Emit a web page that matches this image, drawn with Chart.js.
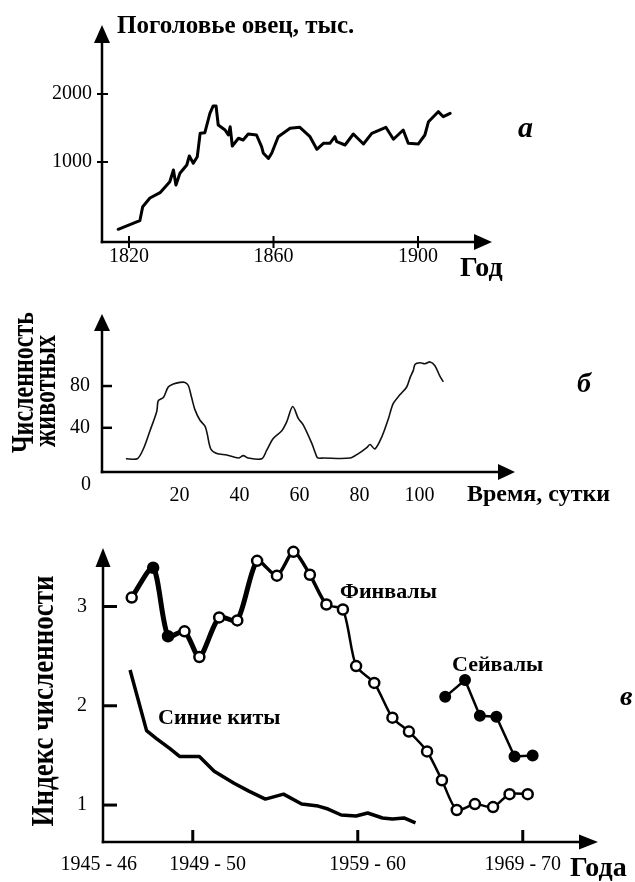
<!DOCTYPE html>
<html><head><meta charset="utf-8">
<script src="https://cdn.jsdelivr.net/npm/chart.js@4/dist/chart.umd.min.js"></script>
<style>
html,body{margin:0;padding:0;background:#fff;width:635px;height:882px;overflow:hidden}
canvas{position:absolute;left:0}
</style></head><body>
<canvas id="ca" width="635" height="290" style="top:0px"></canvas>
<canvas id="cb" width="635" height="230" style="top:290px"></canvas>
<canvas id="cc" width="635" height="362" style="top:520px"></canvas>
<script>
// ---------- Panel a: sheep population (thousands) ----------
const sheepYears = [1817.0, 1823.0, 1823.8, 1825.8, 1828.6, 1831.3, 1832.3, 1833.0, 1834.1, 1836.0, 1836.7, 1837.8, 1838.9, 1839.7, 1841.0, 1842.4, 1843.3, 1844.1, 1844.7, 1846.6, 1847.5, 1848.0, 1848.6, 1850.3, 1851.6, 1853.0, 1855.3, 1856.7, 1857.2, 1858.6, 1859.5, 1861.3, 1864.6, 1867.3, 1870.1, 1872.0, 1873.8, 1875.6, 1877.0, 1877.5, 1879.8, 1882.1, 1884.9, 1887.2, 1891.1, 1893.2, 1895.9, 1897.3, 1900.1, 1901.9, 1902.9, 1905.6, 1907.0, 1908.9];
const sheepValues = [10, 137, 343, 470, 549, 710, 882, 662, 834, 956, 1088, 981, 1078, 1422, 1431, 1716, 1824, 1824, 1544, 1471, 1397, 1519, 1235, 1349, 1324, 1412, 1397, 1225, 1128, 1054, 1128, 1372, 1496, 1510, 1372, 1187, 1275, 1275, 1372, 1299, 1250, 1412, 1265, 1422, 1510, 1334, 1471, 1275, 1265, 1397, 1593, 1740, 1666, 1716];
const sheepTicksX = [1820, 1860, 1900];
const sheepTicksY = [1000, 2000];

// ---------- Panel b: number of animals over time (days) ----------
const animalDays = [2.1, 5.9, 7.9, 10.1, 12.4, 12.9, 14.6, 16.2, 17.9, 20.1, 21.8, 22.9, 24.0, 25.1, 26.8, 28.5, 29.2, 30.4, 32.4, 35.7, 39.6, 41.2, 42.9, 47.4, 49.0, 51.2, 54.0, 55.7, 57.7, 59.6, 61.2, 64.0, 65.7, 66.2, 67.9, 76.8, 79.6, 82.4, 83.5, 85.1, 87.4, 89.6, 91.2, 93.5, 95.7, 96.8, 97.9, 98.5, 100.1, 101.8, 103.5, 105.1, 106.8, 107.9];
const animalCounts = [10.4, 10.4, 19.7, 37, 55.9, 66.1, 69, 79.1, 82, 83.5, 83.5, 80.5, 69, 57.4, 47.2, 41.4, 34.2, 19.7, 15.3, 13.9, 11, 13.3, 11, 10.4, 18.3, 29.8, 37, 45.7, 60.3, 48.7, 42.9, 25.5, 12.4, 11, 11, 11, 15.3, 21.1, 24, 19.7, 31.3, 48.7, 63.1, 71.8, 79.1, 87.8, 95, 100.9, 102.3, 101.4, 103.1, 99.4, 89.2, 84];
const dayTicks = [20, 40, 60, 80, 100];
const countTicks = [40, 80];

// ---------- Panel c: whale abundance index ----------
const finYears = [1945.3, 1946.6, 1947.5, 1948.5, 1949.4, 1950.6, 1951.7, 1952.9, 1954.1, 1955.1, 1956.1, 1957.1, 1958.1, 1958.9, 1960.0, 1961.1, 1962.1, 1963.2, 1964.1, 1965.0, 1966.1, 1967.2, 1968.2, 1969.3];
const finIndex = [3.09, 3.39, 2.70, 2.75, 2.49, 2.89, 2.86, 3.46, 3.31, 3.55, 3.32, 3.02, 2.97, 2.40, 2.23, 1.88, 1.74, 1.54, 1.25, 0.95, 1.01, 0.98, 1.11, 1.11];
const finFilled = [0, 1, 1, 0, 0, 0, 0, 0, 0, 0, 0, 0, 0, 0, 0, 0, 0, 0, 0, 0, 0, 0, 0, 0];
const seiYears = [1964.3, 1965.5, 1966.4, 1967.4, 1968.5, 1969.6];
const seiIndex = [2.09, 2.26, 1.90, 1.89, 1.49, 1.50];
const blueYears = [1945.2, 1946.2, 1946.8, 1947.6, 1948.2, 1949.4, 1950.3, 1951.5, 1952.4, 1953.4, 1954.5, 1955.6, 1956.6, 1957.2, 1958.0, 1958.9, 1959.6, 1960.5, 1961.1, 1961.8, 1962.5];
const blueIndex = [2.36, 1.75, 1.67, 1.57, 1.49, 1.49, 1.34, 1.22, 1.14, 1.06, 1.11, 1.01, 0.99, 0.96, 0.90, 0.89, 0.92, 0.87, 0.86, 0.87, 0.82];
const seasonTickYears = [1949, 1959, 1969];
const seasonLabelAt = [1943.3, 1949.9, 1959.6, 1969.0];
const seasonLabels = ['1945 - 46', '1949 - 50', '1959 - 60', '1969 - 70'];
const indexTicks = [1, 2, 3];

// ---------- helpers ----------
const serif = "'Liberation Serif','Times New Roman',serif";
Chart.defaults.font.family = serif;
Chart.defaults.color = '#000';
const pts = (xs, ys) => xs.map((x, i) => ({x: x, y: ys[i]}));
const fixTicks = vals => s => { s.ticks = vals.map(v => ({value: v})); };

const axesPlugin = {
  id: 'axes',
  afterDraw(chart, args, o) {
    const ctx = chart.ctx, ca = chart.chartArea;
    const xs = chart.scales.x, ys = chart.scales.y;
    const x0 = ca.left, y0 = ca.bottom;
    ctx.save();
    ctx.strokeStyle = '#000'; ctx.fillStyle = '#000';
    ctx.lineCap = 'butt';
    ctx.lineWidth = o.lw;
    ctx.beginPath(); ctx.moveTo(x0, y0 + o.lw / 2); ctx.lineTo(x0, ca.top + o.ah - 1); ctx.stroke();
    ctx.beginPath(); ctx.moveTo(x0 - o.lw / 2, y0); ctx.lineTo(ca.right - o.ah + 1, y0); ctx.stroke();
    ctx.beginPath(); ctx.moveTo(x0, ca.top); ctx.lineTo(x0 - o.aw, ca.top + o.ah); ctx.lineTo(x0 + o.aw, ca.top + o.ah); ctx.closePath(); ctx.fill();
    ctx.beginPath(); ctx.moveTo(ca.right, y0); ctx.lineTo(ca.right - o.ah, y0 - o.aw); ctx.lineTo(ca.right - o.ah, y0 + o.aw); ctx.closePath(); ctx.fill();
    ctx.lineWidth = o.tw;
    (o.xTicks || []).forEach(v => {
      const p = xs.getPixelForValue(v);
      ctx.beginPath(); ctx.moveTo(p, y0 - o.xUp); ctx.lineTo(p, y0 + o.xDown); ctx.stroke();
    });
    (o.yTicks || []).forEach(v => {
      const p = ys.getPixelForValue(v);
      ctx.beginPath(); ctx.moveTo(x0 - o.yLeft, p); ctx.lineTo(x0 + o.yRight, p); ctx.stroke();
    });
    (o.texts || []).forEach(t => {
      ctx.save();
      ctx.translate(t.x, t.y);
      if (t.rot) ctx.rotate(t.rot);
      ctx.scale(t.sx || 1, t.sy || 1);
      ctx.font = t.font;
      ctx.textAlign = t.align || 'left';
      ctx.textBaseline = 'alphabetic';
      ctx.fillText(t.text, 0, 0);
      ctx.restore();
    });
    ctx.restore();
  }
};
Chart.register(axesPlugin);

function baseOpts(pad, axes, xScale, yScale) {
  return {
    responsive: false, animation: false, devicePixelRatio: 1, events: [],
    layout: {padding: pad},
    plugins: {legend: {display: false}, tooltip: {enabled: false}, axes: axes},
    scales: {x: xScale, y: yScale}
  };
}
function scale(extra) {
  return Object.assign({
    type: 'linear',
    grid: {display: false, drawTicks: false},
    border: {display: false}
  }, extra);
}
const tickFont = {family: serif, size: 20};
const bold = s => 'bold ' + s + 'px ' + serif;
const boldIt = s => 'italic bold ' + s + 'px ' + serif;
const ROT = -Math.PI / 2;

// ---------- Chart a ----------
new Chart(document.getElementById('ca'), {
  type: 'line',
  data: {datasets: [{
    data: pts(sheepYears, sheepValues),
    borderColor: '#000', borderWidth: 3, pointRadius: 0, tension: 0,
    borderJoinStyle: 'round', borderCapStyle: 'round', clip: false
  }]},
  options: baseOpts({left: 0, right: 143, top: 25, bottom: 0},
    {lw: 2.5, aw: 8, ah: 18, tw: 2, xTicks: sheepTicksX, xUp: 6, xDown: 6, yTicks: sheepTicksY, yLeft: 5, yRight: 6,
     texts: [
       {text: 'Поголовье овец, тыс.', x: 117, y: 33, font: bold(25)},
       {text: 'Год', x: 460, y: 276, font: bold(28)},
       {text: 'а', x: 518, y: 137, font: boldIt(30)}
     ]},
    scale({min: 1812.53, max: 1920.48, afterBuildTicks: fixTicks(sheepTicksX), afterFit: s => { s.height = 48; },
      ticks: {font: tickFont, color: '#000', padding: 3, maxRotation: 0, minRotation: 0, autoSkip: false, callback: v => String(v)}}),
    scale({min: -176.5, max: 3014.7, afterBuildTicks: fixTicks(sheepTicksY), afterFit: s => { s.width = 102; },
      ticks: {font: tickFont, color: '#000', padding: 10, autoSkip: false, callback: v => String(v)}})
  )
});

// ---------- Chart b ----------
new Chart(document.getElementById('cb'), {
  type: 'line',
  data: {datasets: [{
    data: pts(animalDays, animalCounts),
    borderColor: '#111', borderWidth: 1.6, pointRadius: 0, tension: 0.3, clip: false
  }]},
  options: baseOpts({left: 0, right: 120, top: 8, bottom: 0},
    {lw: 2.5, aw: 8, ah: 17, tw: 2.5, yTicks: countTicks, yLeft: 0, yRight: 10,
     texts: [
       {text: 'Численность', x: 33, y: 92.5, rot: ROT, font: bold(24), align: 'center', sy: 1.3},
       {text: 'животных', x: 55, y: 101, rot: ROT, font: bold(24), align: 'center', sy: 1.3},
       {text: '0', x: 86, y: 199.5, font: '20px ' + serif, align: 'center'},
       {text: 'Время, сутки', x: 467, y: 211, font: bold(24)},
       {text: 'б', x: 577, y: 102, font: boldIt(28)}
     ]},
    scale({min: -5.87, max: 131.8, afterBuildTicks: fixTicks(dayTicks), afterFit: s => { s.height = 48; },
      ticks: {font: tickFont, color: '#000', padding: 12, maxRotation: 0, minRotation: 0, autoSkip: false, callback: v => String(v)}}),
    scale({min: -2.35, max: 149.0, afterBuildTicks: fixTicks(countTicks), afterFit: s => { s.width = 102; },
      ticks: {font: tickFont, color: '#000', padding: 12, autoSkip: false, callback: v => String(v)}})
  )
});

// ---------- Chart c ----------
new Chart(document.getElementById('cc'), {
  type: 'line',
  data: {datasets: [
    {
      data: pts(finYears, finIndex),
      borderColor: '#000', borderWidth: 2.5, tension: 0.25, clip: false,
      segment: {borderWidth: c => c.p0DataIndex < 7 ? 5 : (c.p0DataIndex < 11 ? 3.5 : 2.5)},
      pointRadius: 5, pointBorderWidth: 2.5, pointBorderColor: '#000',
      pointBackgroundColor: finFilled.map(f => f ? '#000' : '#fff')
    },
    {
      data: pts(seiYears, seiIndex),
      borderColor: '#000', borderWidth: 2.5, tension: 0, clip: false,
      pointRadius: 5, pointBorderWidth: 2, pointBorderColor: '#000', pointBackgroundColor: '#000'
    },
    {
      data: pts(blueYears, blueIndex),
      borderColor: '#000', borderWidth: 3.5, tension: 0, pointRadius: 0, clip: false,
      borderJoinStyle: 'round'
    }
  ]},
  options: baseOpts({left: 0, right: 37, top: 22, bottom: 0},
    {lw: 2.5, aw: 7.5, ah: 19, tw: 3, xTicks: seasonTickYears, xUp: 12, xDown: 0, yTicks: indexTicks, yLeft: 0, yRight: 14,
     texts: [
       {text: 'Индекс численности', x: 53, y: 181, rot: ROT, font: bold(27), align: 'center', sy: 1.2},
       {text: 'Финвалы', x: 340, y: 78, font: bold(22)},
       {text: 'Сейвалы', x: 452, y: 150.7, font: bold(22)},
       {text: 'Синие киты', x: 158, y: 204, font: bold(22)},
       {text: 'в', x: 620, y: 185, font: boldIt(28)},
       {text: 'Года', x: 570, y: 356, font: bold(28)}
     ]},
    scale({min: 1943.56, max: 1973.56, afterBuildTicks: fixTicks(seasonLabelAt), afterFit: s => { s.height = 40; },
      ticks: {font: tickFont, color: '#000', padding: 11, maxRotation: 0, minRotation: 0, autoSkip: false, callback: (v, i) => seasonLabels[i]}}),
    scale({min: 0.628, max: 3.589, afterBuildTicks: fixTicks(indexTicks), afterFit: s => { s.width = 103; },
      ticks: {font: tickFont, color: '#000', padding: 16, autoSkip: false, callback: v => String(v)}})
  )
});
</script>
</body></html>
